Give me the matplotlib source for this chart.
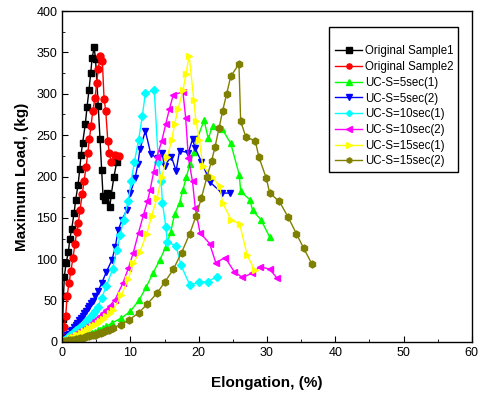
import matplotlib
matplotlib.use("Agg")
import matplotlib.pyplot as plt
from matplotlib.ticker import MultipleLocator

plt.rcParams['font.family'] = ['Liberation Sans', 'DejaVu Sans']

# Original Sample1
s1_x = [0, 0.1, 0.2, 0.34, 0.58, 0.93, 1.12, 1.42, 1.76, 2.0, 2.34, 2.6, 2.78, 3.0, 3.4, 3.66,
        3.95, 4.2, 4.4, 4.7, 4.9, 5.3, 5.56, 5.8, 6.0, 6.3, 6.6, 7.0, 7.2, 7.6, 8.0]
s1_y = [0, 28, 55, 79, 95, 109, 124, 137, 156, 172, 190, 209, 226, 240, 263, 284,
        305, 325, 343, 356, 342, 285, 245, 208, 176, 172, 180, 163, 178, 200, 217]
# Original Sample2
s2_x = [0, 0.15, 0.34, 0.54, 0.73, 1.02, 1.3, 1.6, 1.9, 2.15, 2.39, 2.63, 2.97, 3.22, 3.51, 3.76,
        4.0, 4.24, 4.49, 4.83, 5.07, 5.3, 5.56, 5.9, 6.15, 6.4, 6.7, 6.9, 7.2, 7.8, 8.4]
s2_y = [0, 8, 18, 31, 55, 71, 86, 102, 119, 133, 144, 160, 179, 195, 211, 228,
        245, 261, 279, 295, 313, 330, 346, 340, 294, 279, 243, 229, 218, 226, 225]
# UC-S=5sec(1)
g_x = [0, 0.4, 0.8, 1.2, 1.6, 2.0, 2.4, 2.8, 3.2, 3.6, 4.0, 4.4, 4.8, 5.2, 5.6, 6.0, 6.5, 7.3,
       8.7, 10.0, 11.3, 12.3, 13.3, 14.3, 15.2, 15.9, 16.5, 17.2, 17.7, 18.2, 18.7, 19.3, 19.8,
       20.8, 21.4, 22.05, 23.4, 24.7, 25.95, 26.15, 27.5, 27.9, 29.1, 30.4]
g_y = [0, 1, 2, 3, 4, 5, 6, 7, 8, 9, 10, 11, 12, 14, 15, 17, 19, 23,
       29, 37, 51, 66, 83, 99, 115, 133, 155, 168, 184, 199, 215, 230, 246,
       268, 246, 261, 258, 240, 202, 182, 172, 159, 148, 127]
# UC-S=5sec(2)
b_x = [0, 0.25, 0.5, 0.75, 1.0, 1.25, 1.5, 1.75, 2.0, 2.25, 2.5, 2.75, 3.0, 3.25, 3.5, 3.75,
       4.0, 4.25, 4.5, 4.85, 5.3, 5.8, 6.5, 7.3, 7.8, 8.2, 8.8, 9.5, 10.0, 10.7, 11.1, 11.4,
       12.2, 13.0, 14.0, 14.6, 15.0, 16.0, 16.7, 17.2, 18.5, 19.1, 19.5, 20.4, 21.7, 23.4, 24.6]
b_y = [0, 3, 5, 8, 10, 13, 15, 18, 21, 23, 26, 29, 32, 35, 38, 41,
       44, 47, 50, 55, 62, 71, 85, 99, 115, 135, 148, 160, 180, 198, 215, 233,
       255, 227, 222, 229, 213, 224, 207, 231, 229, 245, 234, 218, 193, 180, 180]
# UC-S=10sec(1)
c_x = [0, 0.3, 0.6, 0.9, 1.2, 1.5, 1.8, 2.1, 2.4, 2.7, 3.0, 3.3, 3.6, 3.9, 4.2, 4.5, 4.8,
       5.2, 5.8, 6.5, 7.4, 8.0, 8.5, 9.0, 9.7, 10.1, 10.6, 11.2, 11.75, 12.2, 13.5, 14.1,
       14.5, 14.7, 15.2, 15.4, 16.7, 17.4, 18.7, 20.0, 21.3, 22.7]
c_y = [0, 2, 4, 6, 8, 10, 12, 14, 16, 18, 21, 23, 26, 28, 31, 34, 37,
       42, 53, 68, 88, 111, 129, 148, 170, 194, 218, 244, 273, 301, 304, 218,
       194, 168, 139, 121, 116, 93, 69, 72, 73, 79]
# UC-S=10sec(2)
m_x = [0, 0.4, 0.8, 1.2, 1.6, 2.0, 2.4, 2.8, 3.2, 3.6, 4.0, 4.4, 4.8, 5.2, 5.6, 6.0, 6.5, 7.0,
       7.75, 8.9, 9.7, 10.4, 11.2, 11.9, 12.5, 12.9, 13.4, 13.9, 14.6, 15.2, 15.7, 16.3, 17.7,
       18.1, 18.5, 19.1, 19.5, 20.2, 21.6, 22.5, 23.9, 25.2, 26.4, 27.8, 29.0, 30.4, 31.5]
m_y = [0, 2, 4, 6, 8, 10, 12, 14, 16, 18, 20, 23, 26, 29, 32, 35, 39, 44,
       51, 71, 89, 107, 132, 153, 170, 184, 205, 224, 243, 264, 281, 299, 302,
       271, 222, 194, 162, 132, 119, 96, 102, 85, 78, 83, 91, 88, 77]
# UC-S=15sec(1)
y_x = [0, 0.4, 0.8, 1.2, 1.6, 2.0, 2.4, 2.8, 3.2, 3.6, 4.0, 4.4, 4.8, 5.2, 5.6, 6.0, 6.5, 7.0,
       7.5, 8.7, 9.7, 10.4, 11.4, 12.4, 13.1, 13.9, 14.6, 15.4, 16.05, 16.5, 17.0, 17.7, 18.15,
       18.6, 19.3, 19.6, 20.1, 20.6, 21.9, 23.1, 23.5, 24.8, 26.0, 27.1, 28.2]
y_y = [0, 2, 3, 5, 6, 8, 9, 11, 13, 15, 17, 19, 21, 23, 25, 28, 31, 35,
       39, 57, 76, 95, 109, 131, 152, 174, 200, 224, 244, 264, 282, 304, 324,
       346, 292, 267, 244, 213, 200, 188, 168, 147, 143, 105, 87]
# UC-S=15sec(2)
o_x = [0, 0.3, 0.6, 0.9, 1.2, 1.5, 1.8, 2.1, 2.4, 2.7, 3.0, 3.3, 3.6, 3.9, 4.2, 4.5, 4.8,
       5.1, 5.4, 5.7, 6.0, 6.3, 6.6, 6.9, 7.4, 8.6, 9.85, 11.2, 12.5, 13.9, 15.1, 16.3, 17.5,
       18.7, 19.6, 20.4, 21.2, 21.9, 22.4, 23.0, 23.5, 24.1, 24.7, 25.9, 26.15, 26.9, 28.3,
       28.8, 29.9, 30.4, 31.8, 33.1, 34.3, 35.4, 36.6]
o_y = [0, 1, 1, 2, 2, 3, 3, 4, 4, 5, 5, 6, 7, 7, 8, 8, 9,
       10, 11, 11, 12, 13, 14, 15, 17, 21, 27, 35, 46, 59, 73, 88, 108,
       131, 152, 174, 199, 219, 236, 259, 279, 300, 321, 336, 267, 248, 243,
       224, 198, 180, 170, 151, 131, 113, 94]

series = [
    (s1_x, s1_y, 'black', 's', 'Original Sample1'),
    (s2_x, s2_y, 'red', 'o', 'Original Sample2'),
    (g_x, g_y, '#00ff00', '^', 'UC-S=5sec(1)'),
    (b_x, b_y, '#0000ff', 'v', 'UC-S=5sec(2)'),
    (c_x, c_y, '#00ffff', 'D', 'UC-S=10sec(1)'),
    (m_x, m_y, '#ff00ff', '<', 'UC-S=10sec(2)'),
    (y_x, y_y, '#ffff00', '>', 'UC-S=15sec(1)'),
    (o_x, o_y, '#808000', 'h', 'UC-S=15sec(2)'),
]

fig = plt.figure(figsize=(4.81, 3.94), dpi=100)
ax = fig.add_axes([0.129, 0.132, 0.852, 0.840])

for xs, ys, col, mk, lab in series:
    ms = 4.2 if mk == 'D' else 5.0
    ax.plot(xs, ys, color=col, marker=mk, markersize=ms, linewidth=1.0,
            markeredgecolor=col, label=lab)

ax.set_xlim(0, 60)
ax.set_ylim(0, 400)
ax.xaxis.set_major_locator(MultipleLocator(10))
ax.xaxis.set_minor_locator(MultipleLocator(5))
ax.yaxis.set_major_locator(MultipleLocator(50))
ax.yaxis.set_minor_locator(MultipleLocator(25))
ax.tick_params(which='both', direction='in', labelsize=9)
ax.tick_params(which='major', length=4)
ax.tick_params(which='minor', length=2.5)
for sp in ax.spines.values():
    sp.set_linewidth(1.0)

ax.set_xlabel('Elongation, (%)', fontsize=11, fontweight='bold', labelpad=12)
ax.set_ylabel('Maximum Load, (kg)', fontsize=11, fontweight='bold', labelpad=5)

leg = ax.legend(loc='upper right', bbox_to_anchor=(0.967, 0.953), fontsize=8.3,
                numpoints=1, markerscale=0.75, handlelength=2.4, handletextpad=0.2,
                labelspacing=0.32, borderpad=0.45, borderaxespad=0,
                title=' ', title_fontsize=7, fancybox=False, shadow=False,
                edgecolor='black', framealpha=1)
leg.get_frame().set_linewidth(1.0)

fig.savefig('out.png', dpi=100)
